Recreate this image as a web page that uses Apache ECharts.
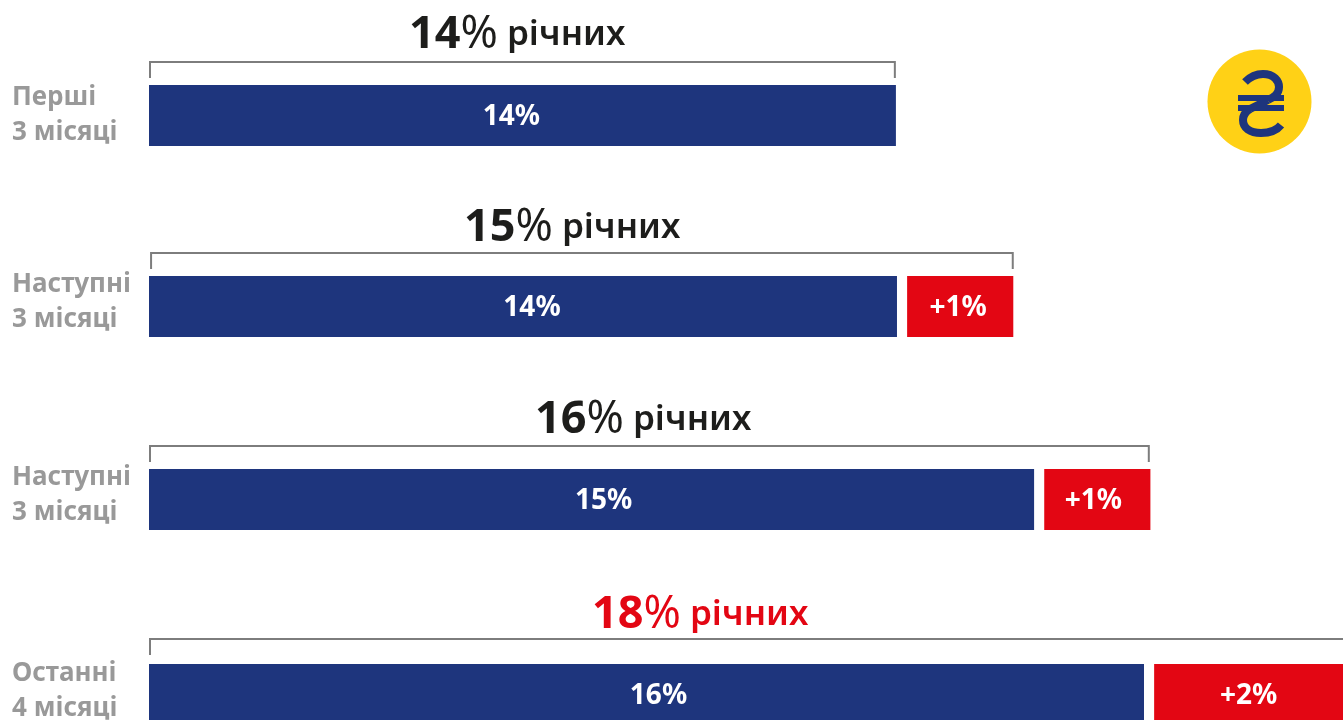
<!DOCTYPE html>
<html>
<head>
    <meta charset="utf-8">
    <title></title>
    <script src="https://cdnjs.cloudflare.com/ajax/libs/echarts/6.0.0/echarts.min.js"></script>
    <style>body{margin:0;background:#fff}</style>
</head>
<body>
<div id="main" style="width:1343px;height:720px;"></div>
<script type="text/javascript">
// row texts
var rowLabels = ['Перші\n3 місяці', 'Наступні\n3 місяці', 'Наступні\n3 місяці', 'Останні\n4 місяці'];
var totals = ['14', '15', '16', '18'];
var blueLabels = ['14%', '14%', '15%', '16%'];
var redLabels = ['', '+1%', '+1%', '+2%'];
// drawn bar lengths, the source picture is not to scale with its own labels
var blueValues = [14, 14.02, 16.59, 18.65];
var redValues = [0, 1.99, 1.99, 3.54];
var gapValues = [0, 0.19, 0.19, 0.19];
var bracketStart = [0, 0.02, 0, 0];
var bracketEnd = [13.98, 16.19, 18.74, 22.6];

// layout per row
var barTops = [85, 276, 469, 664];
var bracketRise = [24, 24, 24, 26];
var titleLeft = [409, 464, 535, 592];
var titleTop = [13, 206, 398, 593];
var rowLabelTop = [80, 267, 460, 656];
var blueLabelShift = [-11, 9, 12, 12];
var redLabelShift = [0, -2, -4, 0];

var NAVY = '#1e357d', RED = '#e30613', INK = '#1d1d1b';
var FONT = '"Noto Sans", sans-serif';

var myChart = echarts.init(document.getElementById('main'));

function bracket(params, api) {
    var a = api.coord([api.value(0), 0]);
    var b = api.coord([api.value(1), 0]);
    var band = api.size([0, 1])[1];
    var bottom = a[1] - band / 2 - api.value(2) + 17;
    var top = a[1] - band / 2 - api.value(2);
    return {
        type: 'polyline',
        shape: {points: [[a[0] + 1, bottom], [a[0] + 1, top + 1], [b[0], top + 1], [b[0], bottom]]},
        style: {fill: null, stroke: '#7d7d7d', lineWidth: 2}
    };
}

// hryvnia sign, the two halves of the S are beziers
function curve(x1, y1, cx1, cy1, cx2, cy2, x2, y2) {
    return {
        type: 'bezierCurve',
        shape: {x1: x1, y1: y1, cpx1: cx1, cpy1: cy1, cpx2: cx2, cpy2: cy2, x2: x2, y2: y2},
        style: {fill: null, stroke: NAVY, lineWidth: 8}
    };
}

var grids = [], xAxes = [], yAxes = [], series = [], titles = [];
for (var i = 0; i < 4; i++) {
    grids.push({left: 149, width: 1194, top: barTops[i], height: 61, outerBoundsMode: 'none'});
    xAxes.push({gridIndex: i, type: 'value', min: 0, max: 22.38, show: false});
    yAxes.push({
        gridIndex: i, type: 'category', data: [rowLabels[i]],
        axisLine: {show: false}, axisTick: {show: false}, axisLabel: {show: false}
    });
    series.push({
        type: 'bar', xAxisIndex: i, yAxisIndex: i, stack: 'r' + i, barWidth: '100%',
        data: [blueValues[i]], itemStyle: {color: NAVY}, silent: true,
        label: {
            show: true, position: 'inside', formatter: blueLabels[i], offset: [blueLabelShift[i], 2],
            color: '#fff', fontFamily: FONT, fontWeight: 'bold', fontSize: 28
        }
    });
    series.push({
        type: 'bar', xAxisIndex: i, yAxisIndex: i, stack: 'r' + i,
        data: [gapValues[i]], itemStyle: {color: 'transparent'}, silent: true
    });
    series.push({
        type: 'bar', xAxisIndex: i, yAxisIndex: i, stack: 'r' + i,
        data: [redValues[i]], itemStyle: {color: RED}, silent: true,
        label: {
            show: redValues[i] > 0, position: 'inside', formatter: redLabels[i], offset: [redLabelShift[i], 2],
            color: '#fff', fontFamily: FONT, fontWeight: 'bold', fontSize: 28
        }
    });
    series.push({
        type: 'custom', xAxisIndex: i, yAxisIndex: i, silent: true, renderItem: bracket,
        encode: {x: [0, 1]},
        data: [[bracketStart[i], bracketEnd[i], bracketRise[i]]], z: 5
    });
    var c = i == 3 ? RED : INK;
    titles.push({
        left: titleLeft[i], top: titleTop[i], padding: 0,
        text: '{n|' + totals[i] + '}{p|%}{w| річних}',
        textStyle: {
            rich: {
                n: {fontFamily: FONT, fontWeight: 'bold', fontSize: 45, color: c},
                p: {fontFamily: FONT, fontWeight: 'normal', fontSize: 45, color: c},
                w: {fontFamily: FONT, fontWeight: 600, fontSize: 35, color: c}
            }
        }
    });
    titles.push({
        left: 12, top: rowLabelTop[i], padding: 0, text: rowLabels[i],
        textStyle: {color: '#999999', fontFamily: FONT, fontWeight: 'bold', fontSize: 26, lineHeight: 35}
    });
}

myChart.setOption({
    animation: false,
    title: titles,
    grid: grids,
    xAxis: xAxes,
    yAxis: yAxes,
    series: series,
    graphic: [
        {type: 'circle', shape: {cx: 1259.5, cy: 101.5, r: 52}, style: {fill: '#ffd116'}},
        curve(1245, 82, 1250, 77, 1256, 74, 1263, 74),
        curve(1263, 74, 1274, 74, 1279, 81, 1279, 87),
        curve(1279, 87, 1279, 94, 1274, 97, 1268, 100),
        curve(1268, 100, 1262, 103, 1256, 106, 1250, 109),
        curve(1250, 109, 1245, 112, 1243, 116, 1243, 120),
        curve(1243, 120, 1243, 128, 1250, 133, 1261, 133),
        curve(1261, 133, 1270, 133, 1277, 130, 1281, 125),
        {type: 'rect', shape: {x: 1238, y: 95, width: 46, height: 6}, style: {fill: NAVY}},
        {type: 'rect', shape: {x: 1238, y: 105, width: 46, height: 6}, style: {fill: NAVY}}
    ]
});
</script>

</body>
</html>
